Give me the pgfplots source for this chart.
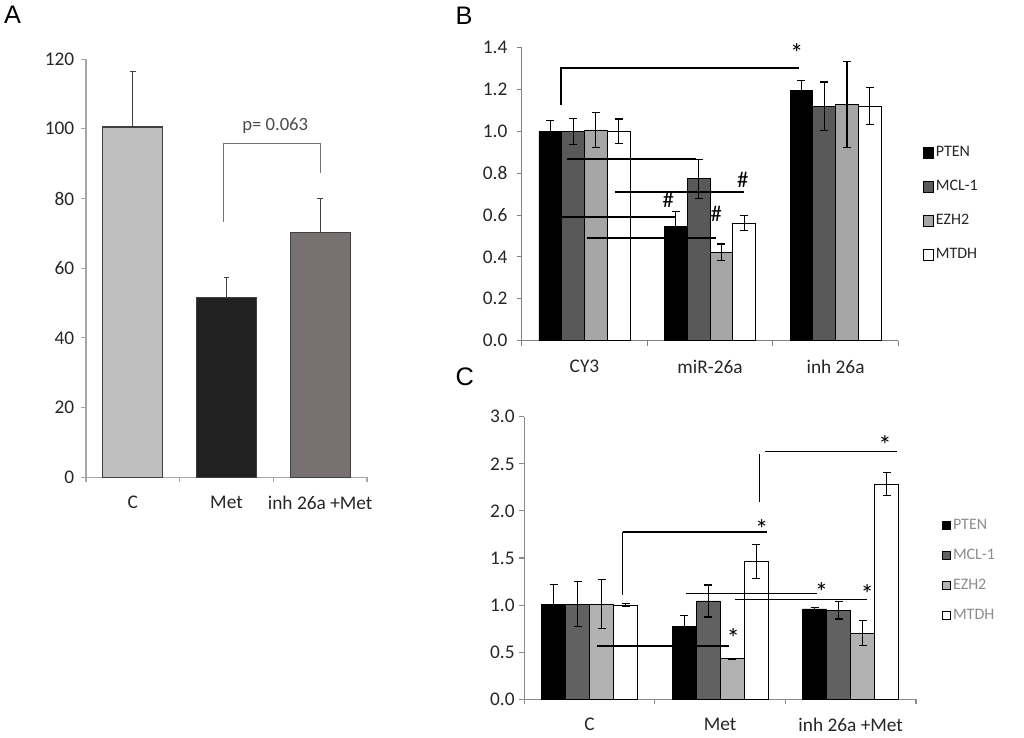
\documentclass[border=0pt]{standalone}
\usepackage{fontspec}
\setmainfont{Carlito}
\newfontfamily\arialfont{Liberation Sans}
\usepackage{pgfplots}
\pgfplotsset{compat=1.18}
\definecolor{tickcol}{HTML}{262626}
\pgfplotsset{
  excel/.style={
    scale only axis,
    axis x line=bottom, axis y line=left,
    axis line style={-, draw=#1, line width=0.8pt},
    tick align=outside,
    major tick length=3.75pt, minor tick length=3.75pt,
    xmin=-0.5, xmax=2.5, xtick={0,1,2},
    minor xtick={-0.5,0.5,1.5,2.5},
    major x tick style={draw=none},
    minor x tick style={draw=#1, line width=0.8pt},
    y tick style={draw=#1, line width=0.8pt},
    tick label style={font=\fontsize{14.5}{16}\selectfont, text=tickcol},
    xticklabel style={yshift=-7pt},
    /pgf/number format/assume math mode=true,
    clip=false,
    ybar,
    error bars/y dir=both, error bars/y explicit,
    error bars/error bar style={line width=0.8pt, black},
    error bars/error mark options={rotate=90, line width=0.8pt, black, mark size=3pt},
  },
  sq/.style={legend image code/.code={\draw[##1, draw=black, line width=0.6pt] (0pt,-#1) rectangle (7.2pt,#1);}},
}
\begin{document}
\begin{tikzpicture}
\path[use as bounding box] (0,0) rectangle (768pt,553.5pt);
% panel labels
\node[font=\arialfont\fontsize{19}{20}\selectfont] at (9.4pt,542.25pt) {A};
\node[font=\arialfont\fontsize{19}{20}\selectfont] at (348pt,541.5pt) {B};
\node[font=\arialfont\fontsize{19}{20}\selectfont] at (348.5pt,271pt) {C};

% ---------------- Panel A ----------------
\begin{axis}[excel={black!35},
  at={(64.5pt,195.5pt)}, anchor=south west,
  width=210.75pt, height=313.7pt,
  ymin=0, ymax=120, ytick={0,20,...,120},
  yticklabel style={xshift=-1.5pt},
  xticklabels={C, Met, inh 26a +Met},
  bar width=0.64,
  error bars/y dir=plus,
  error bars/error bar style={line width=0.9pt, black!75},
  error bars/error mark options={rotate=90, line width=0.9pt, black!75, mark size=2.2pt},
  every axis plot/.append style={draw=black!75, line width=0.8pt, bar shift=0},
]
\addplot[fill=black!25] coordinates {(0,100.5) +- (0,15.9)};
\addplot[fill=black!87] coordinates {(1,51.5) +- (0,5.8)};
\addplot[fill={rgb,255:red,120;green,113;blue,113}] coordinates {(2,70.3) +- (0,9.6)};
\draw[black!55, line width=0.8pt] (axis cs:0.965,73.3) -- (axis cs:0.965,95.8) -- (axis cs:2,95.8) -- (axis cs:2,87.4);
\node[text=black!70, font=\fontsize{14}{16}\selectfont] at (axis cs:1.52,100.8) {p= 0.063};
\end{axis}

% ---------------- Panel B ----------------
\begin{axis}[excel={black!50},
  at={(391.3pt,298pt)}, anchor=south west,
  width=282.45pt, height=219.75pt,
  ymin=0, ymax=1.4, ytick={0,0.2,...,1.4},
  yticklabel style={xshift=-3.5pt, /pgf/number format/.cd, fixed, fixed zerofill, precision=1},
  xticklabels={CY3, miR-26a, inh 26a},
  bar width=0.1815,
  every axis plot/.append style={draw=black, line width=0.6pt},
  sq=4.1pt,
  legend style={draw=none, fill=none, at={(1.066,0.67)}, anchor=north west,
    font=\fontsize{12}{14}\selectfont, text=black!85, row sep=13.2pt, inner sep=0pt,
    nodes={inner sep=1.5pt}},
  legend cell align=left,
]
\addplot[fill=black, bar shift=-0.2723] coordinates {(0,1.0) +- (0,0.054) (1,0.545) +- (0,0.07) (2,1.195) +- (0,0.046)};
\addplot[fill=black!65, bar shift=-0.0908] coordinates {(0,1.0) +- (0,0.062) (1,0.773) +- (0,0.093) (2,1.121) +- (0,0.115)};
\addplot[fill=black!35, bar shift=0.0908] coordinates {(0,1.007) +- (0,0.085) (1,0.422) +- (0,0.04) (2,1.13) +- (0,0.205)};
\addplot[fill=white, bar shift=0.2723] coordinates {(0,1.0) +- (0,0.059) (1,0.562) +- (0,0.036) (2,1.121) +- (0,0.09)};
\legend{PTEN, MCL-1, EZH2, MTDH}
\draw[black, line width=1.4pt] (axis cs:-0.187,1.126) -- (axis cs:-0.187,1.304) -- (axis cs:1.71,1.304);
\draw[black, line width=1.4pt] (axis cs:-0.142,0.868) -- (axis cs:0.888,0.868);
\draw[black, line width=1.4pt] (axis cs:0.243,0.71) -- (axis cs:1.27,0.71);
\draw[black, line width=1.4pt] (axis cs:-0.18,0.592) -- (axis cs:0.72,0.592);
\draw[black, line width=1.4pt] (axis cs:0.017,0.489) -- (axis cs:1.045,0.489);
\node[font=\fontsize{20}{22}\selectfont] at (axis cs:1.69,1.373) {*};
\node[font=\fontsize{17}{19}\selectfont] at (axis cs:1.26,0.768) {\#};
\node[font=\fontsize{17}{19}\selectfont] at (axis cs:0.667,0.672) {\#};
\node[font=\fontsize{17}{19}\selectfont] at (axis cs:1.05,0.605) {\#};
\end{axis}

% ---------------- Panel C ----------------
\begin{axis}[excel={black!45},
  at={(393.2pt,29pt)}, anchor=south west,
  width=293.8pt, height=211.95pt,
  ymin=0, ymax=3, ytick={0,0.5,...,3},
  yticklabel style={/pgf/number format/.cd, fixed, fixed zerofill, precision=1},
  xticklabels={C, Met, inh 26a +Met},
  bar width=0.184,
  every axis plot/.append style={draw=black, line width=0.6pt},
  legend image code/.code={\draw[#1, draw=black, line width=0.6pt] (0pt,-3.1pt) rectangle (6.2pt,3.1pt);},
  legend style={draw=none, fill=none, at={(1.0656,0.645)}, anchor=north west,
    font=\fontsize{12}{14}\selectfont, text=black!45, row sep=10.2pt, inner sep=0pt,
    nodes={inner sep=1.5pt}},
  legend cell align=left,
]
\addplot[fill=black, bar shift=-0.276] coordinates {(0,1.012) +- (0,0.21) (1,0.771) +- (0,0.12) (2,0.959) +- (0,0.018)};
\addplot[fill=black!62, bar shift=-0.092] coordinates {(0,1.01) +- (0,0.24) (1,1.044) +- (0,0.17) (2,0.948) +- (0,0.095)};
\addplot[fill=black!30, bar shift=0.092] coordinates {(0,1.01) +- (0,0.26) (1,0.431) +- (0,0.006) (2,0.704) +- (0,0.128)};
\addplot[fill=white, bar shift=0.276] coordinates {(0,0.998) +- (0,0.015) (1,1.461) +- (0,0.178) (2,2.286) +- (0,0.12)};
\legend{PTEN, MCL-1, EZH2, MTDH}
\draw[black, line width=0.7pt] (axis cs:0.253,1.107) -- (axis cs:0.253,1.779);
\draw[black, line width=1.2pt] (axis cs:0.253,1.779) -- (axis cs:1.356,1.779);
\draw[black, line width=0.7pt] (axis cs:1.305,2.098) -- (axis cs:1.305,2.604);
\draw[black, line width=1.2pt] (axis cs:1.343,2.63) -- (axis cs:2.351,2.63);
\draw[black, line width=1.2pt] (axis cs:0.738,1.125) -- (axis cs:1.739,1.125);
\draw[black, line width=1.2pt] (axis cs:1.113,1.061) -- (axis cs:2.122,1.061);
\draw[black, line width=1.2pt] (axis cs:0.059,0.569) -- (axis cs:1.07,0.569);
\node[font=\fontsize{20}{22}\selectfont] at (axis cs:1.318,1.805) {*};
\node[font=\fontsize{20}{22}\selectfont] at (axis cs:2.262,2.697) {*};
\node[font=\fontsize{20}{22}\selectfont] at (axis cs:1.777,1.14) {*};
\node[font=\fontsize{20}{22}\selectfont] at (axis cs:2.127,1.115) {*};
\node[font=\fontsize{20}{22}\selectfont] at (axis cs:1.1,0.655) {*};
\end{axis}
\end{tikzpicture}
\end{document}
